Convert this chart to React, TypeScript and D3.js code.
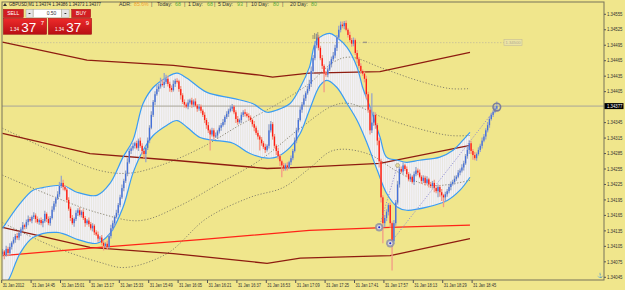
import React, { useEffect, useRef } from "react"
import * as d3 from "d3"

// GBPUSD M1, 31 Jan 2012 14:29 .. 18:59, prices in points above 1.34000
const closes = [
  95, 88, 100, 92, 104, 112, 118, 125, 122, 131,
  138, 146, 143, 152, 158, 155, 162, 165, 158, 152, 156, 150, 154,
  168, 158, 150, 160, 176, 188, 198, 206, 222, 228, 220, 215,
  195, 178, 160, 150, 158, 170, 175, 166, 172, 160, 150, 155,
  148, 140, 145, 132, 128, 120, 122, 112, 106, 110, 104,
  125, 140, 150, 162, 170, 185, 200, 218, 232, 246, 268, 290, 295,
  300, 305, 296, 310, 300, 290, 284, 296, 310, 335, 360, 385, 400, 410,
  415, 420, 418, 424, 430, 420, 412, 408, 420, 426, 425,
  410, 398, 385, 380, 376, 384, 388, 380, 386, 378, 372, 376,
  368, 360, 350, 340, 330, 322, 330, 318, 320, 328, 335, 340, 346,
  356, 362, 368, 372, 376, 365, 352, 346, 350, 360, 365, 362, 358, 355,
  350, 342, 335, 325, 318, 312, 305, 298, 292, 300, 330, 342,
  318, 300, 290, 280, 270, 262, 256, 262, 258, 268, 276,
  290, 310, 330, 350, 370, 380, 392, 402, 410, 420, 445, 470, 495, 510,
  490, 470, 455, 440, 438, 448, 458, 468, 475, 490, 510, 525, 535, 532, 538,
  525, 515, 505, 498, 505, 480, 468, 455, 445, 440, 430, 400, 370, 330,
  345, 360, 340, 310, 270, 200, 150, 160, 172, 185, 150, 115,
  150, 190, 225, 255, 250, 262, 255, 245, 235, 240, 230, 245, 252, 248,
  240, 232, 238, 228, 235, 225, 222, 228, 218, 212, 220, 210, 204, 200, 206,
  212, 220, 226, 230, 236, 240, 248, 252, 258, 266, 280, 292, 305,
  290, 282, 276, 284, 292, 300, 310, 318, 330, 340, 352, 360, 366, 372, 377,
]
const firstOpen = 90
const highExt = [
  5, 3, 6, 4, 7, 3, 5, 4, 6, 3, 4, 6, 3, 5, 7, 4, 3, 6, 4, 5,
  3, 5, 4, 6, 3, 5, 4, 7, 5, 3, 6, 8, 14, 6, 4, 3, 5, 4, 6, 3,
  5, 4, 6, 3, 5, 4, 3, 6, 4, 5, 3, 4, 6, 3, 5, 4, 3, 6, 4, 7,
  5, 3, 6, 4, 5, 7, 4, 6, 8, 5, 4, 6, 3, 5, 4, 6, 5, 3, 4, 6,
  5, 7, 4, 6, 8, 6, 12, 9, 17, 8, 6, 4, 5, 7, 4, 5, 3, 6, 4, 5,
  4, 6, 3, 5, 4, 6, 3, 5, 4, 3, 5, 4, 6, 3, 5, 4, 6, 3, 5, 4,
  6, 3, 5, 4, 6, 5, 3, 4, 6, 3, 5, 4, 6, 3, 5, 4, 3, 6, 4, 5,
  3, 5, 4, 6, 3, 12, 6, 4, 5, 3, 6, 4, 3, 5, 4, 6, 3, 5, 4, 6,
  5, 4, 6, 5, 7, 4, 6, 8, 9, 6, 8, 8, 5, 4, 6, 3, 5, 4, 6, 5,
  7, 6, 5, 8, 6, 6, 4, 5, 3, 6, 4, 5, 3, 6, 4, 5, 3, 4, 6, 5,
  4, 57, 6, 5, 4, 6, 5, 4, 6, 5, 4, 5, 3, 6, 5, 7, 4, 5, 6, 3,
  5, 4, 6, 3, 5, 7, 4, 6, 3, 5, 4, 6, 3, 5, 4, 6, 3, 5, 4, 6,
  3, 5, 4, 6, 5, 4, 6, 3, 5, 4, 6, 5, 4, 7, 6, 5, 4, 6, 3, 5,
  4, 6, 5, 4, 6, 5, 4, 3, 5, 9,
]
const lowExt = [
  4, 8, 3, 6, 4, 5, 3, 6, 4, 5, 6, 3, 5, 4, 6, 3, 5, 4, 7, 3,
  5, 4, 8, 3, 6, 4, 5, 3, 4, 6, 3, 5, 4, 6, 3, 5, 4, 6, 3, 7,
  4, 6, 3, 5, 4, 7, 3, 5, 4, 6, 5, 3, 6, 4, 5, 9, 4, 6, 3, 5,
  4, 6, 3, 5, 4, 3, 6, 4, 5, 3, 6, 4, 5, 3, 6, 4, 7, 8, 16, 4,
  5, 3, 4, 6, 3, 5, 4, 3, 6, 4, 5, 7, 4, 3, 6, 4, 5, 8, 4, 6,
  3, 5, 4, 6, 5, 3, 6, 4, 5, 4, 6, 7, 5, 31, 4, 6, 3, 5, 4, 6,
  3, 5, 4, 6, 3, 5, 4, 8, 5, 3, 6, 4, 5, 3, 6, 4, 5, 7, 4, 6,
  21, 5, 4, 6, 3, 5, 4, 6, 5, 8, 6, 9, 23, 5, 4, 6, 3, 5, 4, 3,
  5, 4, 3, 6, 4, 5, 3, 4, 6, 5, 4, 6, 5, 4, 6, 36, 4, 5, 3, 6,
  4, 5, 6, 3, 5, 4, 6, 3, 5, 4, 6, 5, 4, 8, 5, 6, 4, 7, 9, 6,
  8, 5, 6, 7, 9, 12, 10, 39, 8, 6, 7, 9, 57, 6, 5, 4, 6, 3, 5, 4,
  6, 4, 5, 3, 6, 4, 5, 3, 6, 4, 5, 3, 6, 4, 5, 8, 4, 12, 9, 11,
  19, 8, 5, 4, 6, 3, 5, 4, 3, 5, 4, 6, 3, 5, 8, 6, 9, 4, 5, 3,
  4, 5, 3, 6, 4, 5, 3, 4, 3, 4,
]

// indicator readings: [bar, points]
const bbUpper = [[0, 140], [9.5, 188], [16.6, 214], [22, 219], [33, 223], [40.5, 210], [51.4, 204], [58.5, 227], [65.6, 278], [71, 311], [76.5, 382], [82, 413], [89.5, 433], [95, 441], [100.4, 431], [111, 404], [125.4, 392], [136, 382], [144, 365], [149, 369], [156.5, 382], [162, 413], [167, 452], [171, 505], [178, 518], [182, 510], [187.5, 491], [193, 452], [196, 413], [200, 375], [205.5, 316], [209, 278], [215, 272], [220, 268], [227, 272], [238, 278], [245, 291], [250.6, 311], [254.4, 326]]
const bbLower = [[0, 20], [4, 45], [9.5, 91], [16.6, 122], [29.7, 132], [42, 117], [51.4, 111], [58.5, 130], [65.6, 181], [71, 247], [76.5, 291], [82, 320], [89.5, 340], [95, 349], [100.4, 336], [107.5, 316], [114.5, 311], [125.4, 305], [134.7, 285], [144, 276], [149, 278], [156.5, 297], [162, 324], [167, 369], [172.8, 417], [176.6, 427], [182, 413], [187.5, 382], [193, 349], [198.4, 305], [204, 252], [209, 208], [215, 181], [220, 175], [231, 181], [242, 194], [249, 214], [254.4, 239]]
const slowUpper = [[0, 334], [26, 291], [53, 252], [69.4, 247], [86, 262], [107.5, 295], [129, 340], [151, 384], [167, 421], [180, 462], [189, 472], [207, 450], [225.6, 427], [243.5, 411], [254.4, 411]]
const slowMid = [[0, 243], [26, 204], [53, 169], [75, 155], [96.6, 184], [118, 227], [140, 272], [162, 334], [180, 378], [189, 382], [207, 355], [225.6, 334], [243.5, 320], [254.4, 320]]
const slowLower = [[0, 151], [26, 107], [53, 74], [66.7, 64], [89.5, 91], [111, 159], [134.7, 200], [152.7, 219], [167, 256], [180, 291], [198.4, 285], [216.3, 247], [232.7, 223], [254.4, 233]]
const envUpper = [[0, 501], [46, 466], [93, 456], [140, 437], [147, 433], [167, 441], [205.4, 444], [254.4, 481]]
const envMid = [[0, 324], [47.6, 285], [93, 272], [144, 256], [162, 258], [205.4, 266], [254.4, 301]]
const envLower = [[0, 142], [47.6, 103], [93, 91], [144, 72], [162, 82], [211, 87], [254.4, 120]]
const redMa = [[0, 87], [53, 103], [107.5, 118], [167, 136], [211, 142], [254.4, 146]]
const markBars = [205, 211]
const markPts = [142, 111]
const trendA = [[205, 142], [215, 262]]
const trendB = [[211, 111], [269, 375]]
const alertLevel = 500

const priceTicks = [555, 525, 495, 465, 435, 405, 345, 315, 285, 255, 225, 195, 165, 135, 105, 75, 45]
const timeLabels = ["31 Jan 2012", "31 Jan 14:45", "31 Jan 15:01", "31 Jan 15:17", "31 Jan 15:33", "31 Jan 15:49", "31 Jan 16:05", "31 Jan 16:21", "31 Jan 16:37", "31 Jan 16:53", "31 Jan 17:09", "31 Jan 17:25", "31 Jan 17:41", "31 Jan 17:57", "31 Jan 18:13", "31 Jan 18:29", "31 Jan 18:45"]
const adrItems = [["ADR:", "85.6%"], ["Today:", "68"], ["1 Day:", "68"], ["5 Day:", "93"], ["10 Day:", "80"], ["20 Day:", "80"]]

const toPrice = (v: number) => 1.34 + v / 1e5
const FONT = "Liberation Sans, Arial, sans-serif"

export default function App() {
  const ref = useRef<SVGSVGElement>(null)

  useEffect(() => {
    const svg = d3.select(ref.current)
    svg.selectAll("*").remove()

    const x = d3.scaleLinear().domain([0, closes.length - 1]).range([2.5, 496.8])
    const y = d3.scaleLinear().domain([1.34045, 1.34555]).range([277.3, 14.3])
    const px = (d: number[]) => x(d[0])
    const py = (d: number[]) => y(toPrice(d[1]))
    const smooth = d3.line<number[]>().x(px).y(py).curve(d3.curveCatmullRom.alpha(0.5))
    const straight = d3.line<number[]>().x(px).y(py)

    svg.append("rect").attr("width", 625).attr("height", 290).attr("fill", "#f0e68c")

    const defs = svg.append("defs")
    defs.append("clipPath").attr("id", "plot")
      .append("rect").attr("x", 2).attr("y", 2).attr("width", 602).attr("height", 278)
    defs.append("pattern").attr("id", "stripes").attr("patternUnits", "userSpaceOnUse")
      .attr("width", x(1) - x(0)).attr("height", 10).attr("x", x(0) - 0.55)
      .append("rect").attr("width", 1.1).attr("height", 10).attr("fill", "#f3f2fa")
    const grad = defs.append("linearGradient").attr("id", "redbox").attr("x1", 0).attr("y1", 0).attr("x2", 0).attr("y2", 1)
    grad.append("stop").attr("offset", "0%").attr("stop-color", "#ee2a2a")
    grad.append("stop").attr("offset", "100%").attr("stop-color", "#b80f14")

    const g = svg.append("g").attr("clip-path", "url(#plot)")

    // bollinger fill with bar stripes
    const band = smooth(bbUpper) + "L" + smooth(bbLower.slice().reverse())!.slice(1) + "Z"
    g.append("path").attr("d", band).attr("fill", "#e6e3d8")
    g.append("path").attr("d", band).attr("fill", "url(#stripes)")

    // horizontal levels
    g.append("line").attr("x1", 2).attr("x2", 604).attr("y1", y(toPrice(377))).attr("y2", y(toPrice(377)))
      .attr("stroke", "#a8a498").attr("stroke-width", 1)
    g.append("line").attr("x1", 2).attr("x2", 504).attr("y1", y(toPrice(alertLevel))).attr("y2", y(toPrice(alertLevel)))
      .attr("stroke", "#c4bc98").attr("stroke-width", 0.8).attr("stroke-dasharray", "1.5,1.5")

    // slow bands, dotted
    for (const s of [slowUpper, slowMid, slowLower]) {
      g.append("path").attr("d", smooth(s)).attr("fill", "none")
        .attr("stroke", "#7e7a66").attr("stroke-width", 0.9).attr("stroke-dasharray", "1.2,1.8")
    }
    // envelopes and red ma
    for (const s of [envUpper, envMid, envLower]) {
      g.append("path").attr("d", straight(s)).attr("fill", "none")
        .attr("stroke", "#8e1c10").attr("stroke-width", 1.3)
    }
    g.append("path").attr("d", straight(redMa)).attr("fill", "none")
      .attr("stroke", "#ff2418").attr("stroke-width", 1.2)

    // bollinger lines
    for (const s of [bbUpper, bbLower]) {
      g.append("path").attr("d", smooth(s)).attr("fill", "none")
        .attr("stroke", "#3a9cf2").attr("stroke-width", 1.2)
    }

    // candles
    closes.forEach((c, i) => {
      const o = i === 0 ? firstOpen : closes[i - 1]
      const up = c >= o
      const hi = Math.max(o, c) + highExt[i]
      const lo = Math.min(o, c) - lowExt[i]
      const cx = x(i)
      g.append("line").attr("x1", cx).attr("x2", cx)
        .attr("y1", y(toPrice(hi))).attr("y2", y(toPrice(lo)))
        .attr("stroke", up ? "#98a6c8" : "#f39a86").attr("stroke-width", 1.3)
      const top = y(toPrice(Math.max(o, c)))
      const h = Math.max(1, y(toPrice(Math.min(o, c))) - top)
      g.append("rect").attr("x", cx - 0.65).attr("y", top).attr("width", 1.3).attr("height", h)
        .attr("fill", up ? "#4470da" : "#ff1a10")
    })

    // trend lines and markers
    for (const t of [trendA, trendB]) {
      g.append("path").attr("d", straight(t)).attr("fill", "none")
        .attr("stroke", "#8a88d0").attr("stroke-width", 0.9).attr("stroke-dasharray", "1.2,1.6")
    }
    markBars.forEach((b, k) => {
      const cx = x(b), cy = y(toPrice(markPts[k]))
      g.append("circle").attr("cx", cx).attr("cy", cy).attr("r", 4.2).attr("fill", "#8d8fa8").attr("opacity", 0.85)
      g.append("circle").attr("cx", cx).attr("cy", cy).attr("r", 2.3).attr("fill", "#d8d8e6")
      g.append("circle").attr("cx", cx).attr("cy", cy).attr("r", 1).attr("fill", "#1a2ad0")
    })
    g.append("circle").attr("cx", x(trendA[1][0])).attr("cy", y(toPrice(trendA[1][1]))).attr("r", 2)
      .attr("fill", "#e8dca0").attr("stroke", "#9a9470").attr("stroke-width", 0.6)
    const last = trendB[1]
    g.append("circle").attr("cx", x(last[0])).attr("cy", y(toPrice(last[1]))).attr("r", 3.8)
      .attr("fill", "none").attr("stroke", "#7c7e9c").attr("stroke-width", 1.6)
    g.append("rect").attr("x", 363).attr("y", y(toPrice(alertLevel)) - 1).attr("width", 4).attr("height", 1.4).attr("fill", "#a09a86")

    // alert label
    svg.append("rect").attr("x", 504).attr("y", y(toPrice(alertLevel)) - 3).attr("width", 18).attr("height", 6)
      .attr("fill", "#ece4a6").attr("stroke", "#c4bc98").attr("stroke-width", 0.6)
    svg.append("text").attr("x", 505.5).attr("y", y(toPrice(alertLevel)) + 1.6).text(d3.format(".5f")(toPrice(alertLevel)))
      .attr("font-size", 4.4).attr("font-family", FONT).attr("fill", "#b0aa90")
      .attr("textLength", 15).attr("lengthAdjust", "spacingAndGlyphs")

    // frame
    svg.append("rect").attr("x", 2).attr("y", 2).attr("width", 602).attr("height", 278)
      .attr("fill", "none").attr("stroke", "#77735a").attr("stroke-width", 1)

    // price axis
    priceTicks.forEach(v => {
      const ty = y(toPrice(v))
      svg.append("line").attr("x1", 604).attr("x2", 606).attr("y1", ty).attr("y2", ty).attr("stroke", "#555")
      svg.append("text").attr("x", 607).attr("y", ty + 1.7).text(d3.format(".5f")(toPrice(v)))
        .attr("font-size", 4.8).attr("font-family", FONT).attr("fill", "#333")
        .attr("textLength", 15.5).attr("lengthAdjust", "spacingAndGlyphs")
    })
    const cy = y(toPrice(377))
    svg.append("rect").attr("x", 604.5).attr("y", cy - 3).attr("width", 19).attr("height", 6).attr("fill", "#000")
    svg.append("text").attr("x", 607).attr("y", cy + 1.7).text(d3.format(".5f")(toPrice(377)))
      .attr("font-size", 4.8).attr("font-family", FONT).attr("fill", "#fff")
      .attr("textLength", 15.5).attr("lengthAdjust", "spacingAndGlyphs")

    // time axis
    timeLabels.forEach((t, k) => {
      const tx = x(k * 16) - 0.8
      svg.append("line").attr("x1", tx).attr("x2", tx).attr("y1", 280).attr("y2", 283).attr("stroke", "#555")
      svg.append("text").attr("x", tx + 1).attr("y", 286.7).text(t)
        .attr("font-size", 4.6).attr("font-family", FONT).attr("fill", "#333")
        .attr("textLength", k === 0 ? 21.5 : 23).attr("lengthAdjust", "spacingAndGlyphs")
    })

    // header
    svg.append("path").attr("d", "M3,6 L5,3 L7,6 Z").attr("fill", "#333")
    svg.append("text").attr("x", 9).attr("y", 6.3).text("GBPUSD,M1 1.34374 1.34386 1.34373 1.34377")
      .attr("font-size", 5.2).attr("font-family", FONT).attr("fill", "#222")
      .attr("textLength", 92).attr("lengthAdjust", "spacingAndGlyphs")
    const adrX = [119, 157, 188, 218, 251, 290]
    const valX = [134, 175, 207, 237, 273, 311]
    adrItems.forEach(([lab, val], k) => {
      svg.append("text").attr("x", adrX[k]).attr("y", 6.3).text(lab)
        .attr("font-size", 5.2).attr("font-family", FONT).attr("fill", "#333")
      svg.append("text").attr("x", valX[k]).attr("y", 6.3).text(val)
        .attr("font-size", 5.2).attr("font-family", FONT).attr("fill", k === 0 ? "#f0a030" : "#58a838")
      if (k < 5) svg.append("text").attr("x", [151, 184, 214, 246, 282][k]).attr("y", 6.3).text("|")
        .attr("font-size", 5.2).attr("font-family", FONT).attr("fill", "#444")
    })
    ;[313, 314.6, 316.2, 317.8].forEach((bx, k) => {
      svg.append("line").attr("x1", bx).attr("x2", bx).attr("y1", 39).attr("y2", 39 - [4, 6, 5, 7][k])
        .attr("stroke", "#8a8470").attr("stroke-width", 0.8)
    })
    svg.append("text").attr("x", 596.5).attr("y", 277).text("⚓").attr("font-size", 5).attr("fill", "#8a8470")

    // one click trading panel
    const btn = (bx: number, w: number, label: string) => {
      svg.append("rect").attr("x", bx).attr("y", 9.3).attr("width", w).attr("height", 8.4).attr("fill", "#d21e22").attr("stroke", "#a01418").attr("stroke-width", 0.5)
      svg.append("text").attr("x", bx + w / 2).attr("y", 15.4).attr("text-anchor", "middle").text(label)
        .attr("font-size", 5).attr("font-family", FONT).attr("fill", "#fff")
    }
    btn(3.3, 20, "SELL")
    btn(71.7, 19, "BUY")
    svg.append("rect").attr("x", 26).attr("y", 9.3).attr("width", 7).attr("height", 8.4).attr("fill", "#e4e4e4").attr("stroke", "#999").attr("stroke-width", 0.4)
    svg.append("rect").attr("x", 33.3).attr("y", 9.3).attr("width", 28).attr("height", 8.4).attr("fill", "#fff").attr("stroke", "#999").attr("stroke-width", 0.4)
    svg.append("rect").attr("x", 61.7).attr("y", 9.3).attr("width", 7.4).attr("height", 8.4).attr("fill", "#e4e4e4").attr("stroke", "#999").attr("stroke-width", 0.4)
    svg.append("rect").attr("x", 28.6).attr("y", 13).attr("width", 1.8).attr("height", 1).attr("fill", "#333")
    svg.append("rect").attr("x", 64.5).attr("y", 13).attr("width", 1.8).attr("height", 1).attr("fill", "#333")
    svg.append("text").attr("x", 51.5).attr("y", 15.3).attr("text-anchor", "middle").text("0.50")
      .attr("font-size", 5).attr("font-family", FONT).attr("fill", "#333")
    const quote = (bx: number, pip: string) => {
      svg.append("rect").attr("x", bx).attr("y", 18.3).attr("width", 43.4).attr("height", 16).attr("fill", "url(#redbox)").attr("stroke", "#9a1014").attr("stroke-width", 0.5)
      svg.append("text").attr("x", bx + 6.7).attr("y", 31).text("1.34").attr("font-size", 4.6).attr("font-family", FONT).attr("fill", "#fff")
      svg.append("text").attr("x", bx + 18).attr("y", 32.4).text("37").attr("font-size", 13.5).attr("font-family", FONT).attr("fill", "#fff")
      svg.append("text").attr("x", bx + 37.4).attr("y", 25.2).text(pip).attr("font-size", 6).attr("font-family", FONT).attr("fill", "#fff")
    }
    quote(3.3, "7")
    quote(48.3, "9")
  }, [])

  return <svg ref={ref} width={625} height={290} style={{ position: "absolute", left: 0, top: 0, display: "block" }} />
}
